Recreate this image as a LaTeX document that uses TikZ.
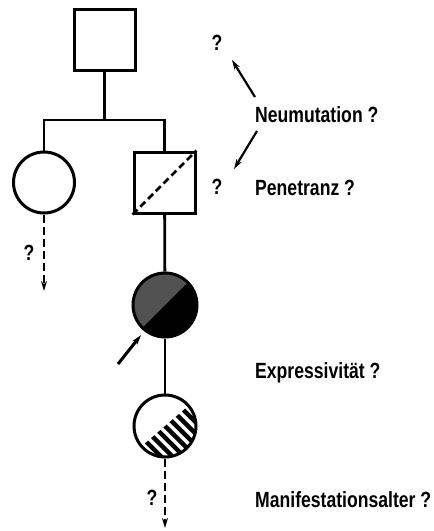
\documentclass[tikz,border=0pt]{standalone}
\usepackage{fontspec}
\setmainfont[FakeStretch=0.8]{Liberation Sans}
\usetikzlibrary{arrows.meta}
\begin{document}
\begin{tikzpicture}[x=1pt,y=-1pt,
  person/.style={draw, line width=3pt, inner sep=0pt, minimum size=61pt},
  sq/.style={person, rectangle},
  ci/.style={person, circle},
  txt/.style={font=\bfseries\fontsize{22}{24}\selectfont, inner sep=0pt},
  lbl/.style={txt, anchor=west},
  link/.style={line width=2.8pt},
  dashlink/.style={link, dash pattern=on 8pt off 4pt},
  arr/.style={-{Stealth[length=10pt,width=6pt]}},
  hatch/.style={line width=4.5pt}
]
\useasboundingbox (0,0) rectangle (434,531);

% fills of the half-shaded circles
\begin{scope}[shift={(165,305)}]
  \clip (0,0) circle (32);
  \fill[black] (-40,-40) rectangle (40,40);
  \fill[black!68] (-40,40) -- (40,-40) -- (-40,-40) -- cycle;
\end{scope}
\begin{scope}[shift={(165,426)}]
  \clip (-45,39) -- (45,-39) -- (45,45) -- (-45,45) -- cycle;
  \clip (0,0) circle (31);
  \foreach \k in {-6,...,6}
    \draw[hatch] (\k*11.5-45,-45) -- (\k*11.5+45,45);
\end{scope}

% persons
\node[sq] (f) at (104.5,40) {};
\node[ci] (d) at (44,182.5) {};
\node[sq] (s) at (164.5,182.5) {};
\node[ci, minimum size=64pt] (c1) at (165,305) {};
\node[ci, minimum size=62pt] (c2) at (165,426) {};
\draw[line width=2.6pt, dash pattern=on 7pt off 4pt] (s.south west) -- (s.north east);

% lines of descent
\coordinate (j) at (104.5,120);
\coordinate (bl) at (44,120);
\coordinate (br) at (164.5,120);
\draw[link] (f) -- (j);
\draw[link, line cap=rect] (bl) -- (br);
\draw[link] (d) -- (bl);
\draw[link] (s) -- (br);
\draw[link] (s) -- (c1);
\draw[link] (c1) -- (c2);

\coordinate (dend) at (44,291);
\draw[dashlink, arr] (d) -- (dend);
\coordinate (cend) at (165,528);
\draw[dashlink, arr] (c2) -- (cend);

% proband arrow
\coordinate (pa) at (118,364);
\draw[line width=3pt, arr, shorten >=5pt] (pa) -- (c1);

% labels
\node[lbl] (nm) at (255,115) {Neumutation ?};
\node[lbl] (pn) at (255,188) {Penetranz ?};
\node[lbl] (ex) at (255,373) {Expressivität ?};
\node[lbl] (ma) at (255,500) {Manifestationsalter ?};
\node[txt] (q1) at (217,43) {?};
\node[txt] (q2) at (217,187) {?};
\node[txt] (q3) at (29,253) {?};
\node[txt] (q4) at (152,498) {?};

\coordinate (n1s) at (255,97);
\coordinate (n1e) at (232,60);
\coordinate (n2s) at (257,131);
\coordinate (n2e) at (234,169);
\draw[line width=2.2pt, arr] (n1s) -- (n1e);
\draw[line width=2.2pt, arr] (n2s) -- (n2e);
\end{tikzpicture}
\end{document}
